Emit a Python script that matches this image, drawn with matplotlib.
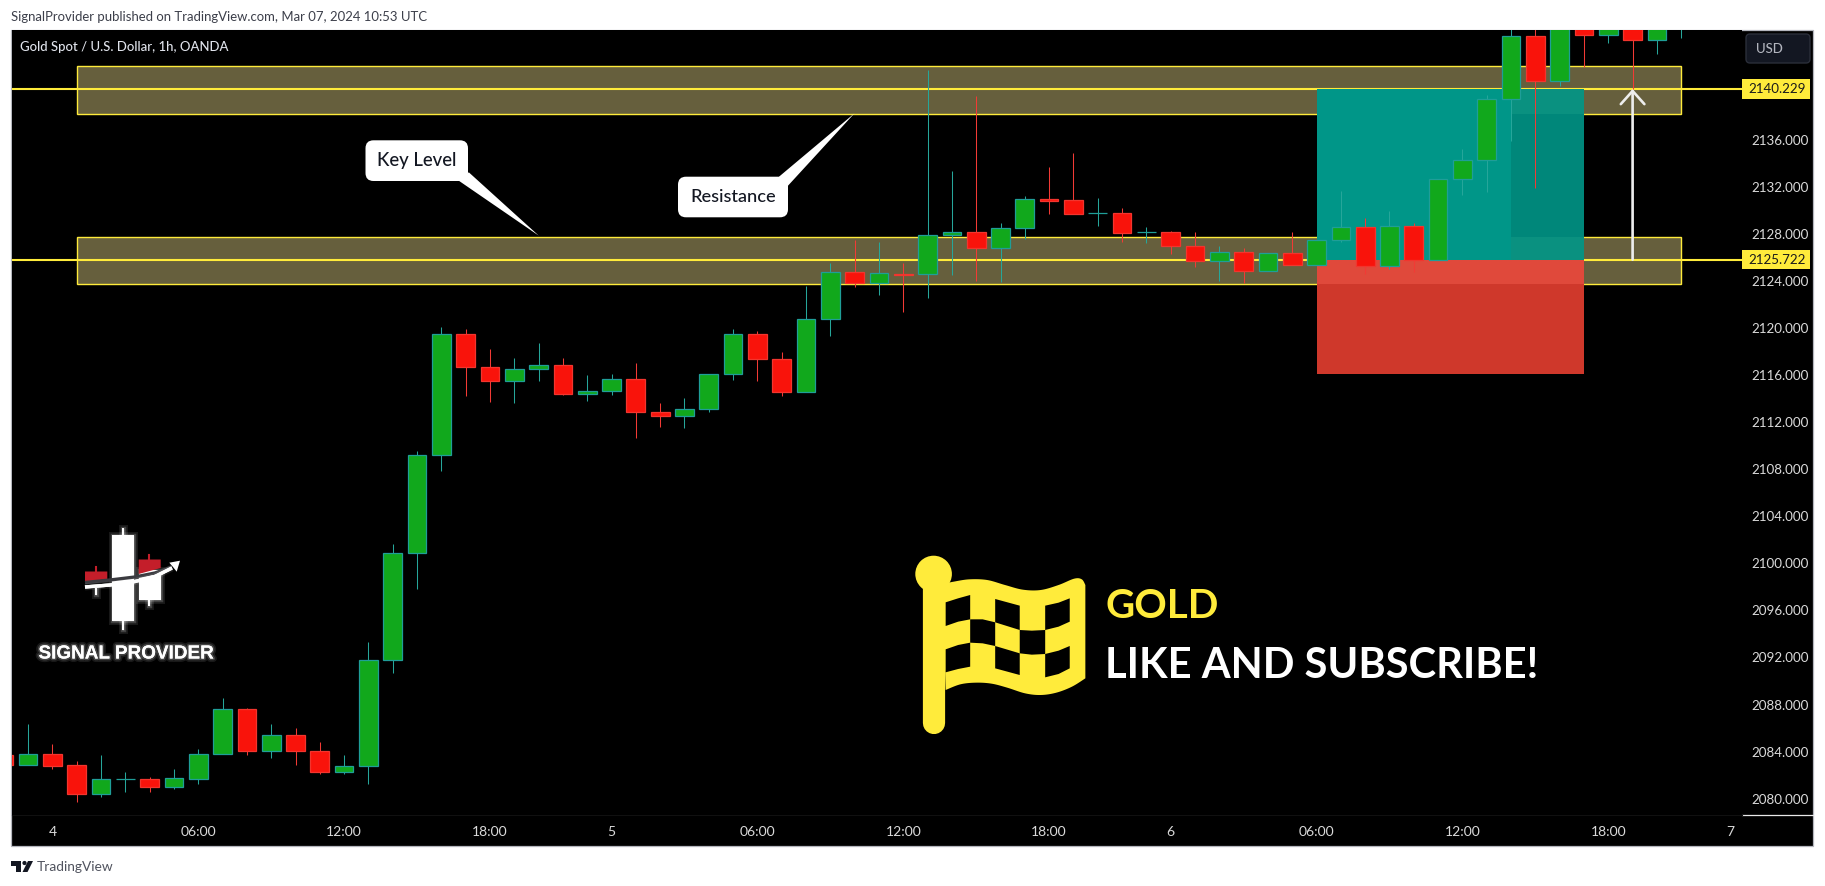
import numpy as np
import matplotlib
matplotlib.use("Agg")
import matplotlib.pyplot as plt
from matplotlib.patches import Rectangle, FancyBboxPatch, Polygon, Circle
from matplotlib.transforms import ScaledTranslation
import matplotlib.patheffects as pe

# ---------- data (prices are offsets from price_base) ----------
price_base = 2000
opens = [83.6,82.8,83.7,82.8,80.3,81.6,81.6,80.9,81.6,83.7,87.5,84.0,85.3,84.0,82.2,82.7,91.7,100.8,109.1,119.4,116.6,115.4,116.4,116.8,114.3,114.6,115.6,112.8,112.4,113.0,116.0,119.4,117.3,114.5,120.7,124.7,123.7,124.5,124.5,127.8,128.1,126.7,128.4,130.9,130.8,129.7,129.7,128.1,128.1,126.9,125.6,126.4,124.8,126.3,125.3,127.4,128.5,125.2,128.6,125.7,132.6,134.2,139.4,144.7,140.9,145.8,144.8,145.8,144.4,145.7]
highs = [83.8,86.3,84.6,83.1,83.6,82.2,81.8,82.4,84.1,88.5,87.6,86.3,85.9,84.7,83.6,93.2,101.6,109.5,120.0,119.8,118.1,117.4,118.6,117.4,115.9,116.0,116.9,113.5,114.0,116.0,119.8,119.7,117.9,123.5,125.4,127.4,127.2,125.4,141.8,133.3,139.6,128.8,131.1,133.6,134.8,131.0,130.1,128.5,128.2,128.1,126.9,126.7,126.3,128.1,127.4,131.6,129.3,129.9,128.8,132.6,135.1,139.7,145.8,146.1,146.9,146.7,146.7,146.7,146.4,146.9]
lows = [82.8,82.8,82.4,79.6,80.1,80.5,80.5,80.7,81.2,83.7,83.6,83.4,82.8,82.0,82.0,81.2,90.6,97.7,107.8,114.1,113.6,113.5,115.4,114.2,113.7,114.2,110.6,111.5,111.4,112.8,115.5,115.4,114.1,114.5,119.2,123.4,122.7,121.3,122.5,124.4,123.9,123.8,127.5,129.6,129.6,128.6,127.2,127.1,126.2,125.1,123.9,123.7,124.8,125.3,125.3,127.2,124.5,124.9,124.7,125.7,131.2,131.5,135.8,131.8,140.5,142.1,144.1,140.2,143.2,144.6]
closes = [82.8,83.7,82.7,80.3,81.6,81.6,80.9,81.7,83.7,87.5,84.0,85.3,84.0,82.2,82.7,91.7,100.8,109.1,119.4,116.6,115.4,116.4,116.8,114.3,114.6,115.6,112.8,112.4,113.0,116.0,119.4,117.3,114.5,120.7,124.7,123.7,124.6,124.4,127.8,128.1,126.7,128.4,130.9,130.7,129.6,129.7,128.0,128.1,126.9,125.6,126.4,124.8,126.3,125.3,127.4,128.5,125.2,128.6,125.7,132.6,134.2,139.4,144.7,140.9,146.1,144.8,145.8,144.4,145.5,146.1]
first_bar = -2

time_ticks = [0, 6, 12, 18, 23, 29, 35, 41, 46, 52, 58, 64, 69]
time_labels = ["4", "06:00", "12:00", "18:00", "5", "06:00", "12:00", "18:00", "6", "06:00", "12:00", "18:00", "7"]
price_ticks = [2080, 2084, 2088, 2092, 2096, 2100, 2104, 2108, 2112, 2116, 2120, 2124, 2128, 2132, 2136]

line_upper = 2140.229
line_lower = 2125.722
zone_upper = (2138.08, 2142.16)
zone_lower = (2123.63, 2127.63)
zone_bars = (1, 67)
position_bars = (52, 63)
position_overlap_bar = 60
stop_price = 2116.03
arrow_bar = 65

# ---------- colours ----------
UP_FACE, UP_EDGE, UP_WICK = "#11A81C", "#1F9E98", "#26A69A"
DOWN_FACE, DOWN_EDGE, DOWN_WICK = "#F9130B", "#F2352E", "#F23A35"
YELLOW = "#FFEB3B"
ZONE = "#665F3D"
TICK = "#DADADA"
FONT = "Lato"

W, H = 1825, 886
fig = plt.figure(figsize=(W / 100, H / 100), dpi=100, facecolor="white")


def px_axes(z):
    a = fig.add_axes([0, 0, 1, 1], zorder=z)
    a.set_xlim(0, W)
    a.set_ylim(H, 0)
    a.axis("off")
    a.patch.set_alpha(0)
    return a


bg = px_axes(0)
bg.add_patch(Rectangle((11.5, 30), 1813.5 - 11.5, 846 - 30, fc="black", ec="#B4B6BD", lw=0.9))
bg.plot([1742, 1813], [815, 815], color="#E8E8E8", lw=0.9)

# ---------- price pane ----------
L, R, T, B = 11.5, 1742.0, 30.0, 815.0
ax = fig.add_axes([L / W, 1 - B / H, (R - L) / W, (B - T) / H], zorder=1, facecolor="black")
ax.set_xlim(-1.682, 69.5)
ax.set_ylim(2078.53, 2145.24)
for s in ax.spines.values():
    s.set_visible(False)
ax.spines["bottom"].set_visible(True)
ax.spines["bottom"].set_color("#101010")
ax.spines["bottom"].set_linewidth(0.8)

ax.yaxis.tick_right()
ax.set_yticks(price_ticks)
ax.set_yticklabels([f"{p:.3f}" for p in price_ticks], fontsize=9.6, color=TICK, family=FONT)
ax.tick_params(axis="y", length=0, pad=6.5)
ax.set_xticks(time_ticks)
ax.set_xticklabels(time_labels, fontsize=10, color=TICK, family=FONT)
ax.tick_params(axis="x", length=0, pad=7.7)
down1 = ScaledTranslation(0, -1 / 100, fig.dpi_scale_trans)
for lab in ax.get_yticklabels():
    lab.set_transform(lab.get_transform() + down1)

# zones
for lo, hi in (zone_upper, zone_lower):
    ax.add_patch(Rectangle((zone_bars[0], lo), zone_bars[1] - zone_bars[0], hi - lo, fc=ZONE, ec=YELLOW, lw=1.0, zorder=1))
# horizontal levels
for lvl in (line_upper, line_lower):
    ax.axhline(lvl, color=YELLOW, lw=1.5, zorder=2)

# long position box
x0, x1 = position_bars
xo = position_overlap_bar
ax.add_patch(Rectangle((x0, line_lower), x1 - x0, line_upper - line_lower, fc="#009688", ec="none", zorder=3))
ax.add_patch(Rectangle((x0, stop_price), x1 - x0, line_lower - stop_price, fc="#CF382B", ec="none", zorder=3))
ax.add_patch(Rectangle((x0, zone_lower[0]), x1 - x0, line_lower - zone_lower[0], fc="#E0493B", ec="none", zorder=3))
ax.add_patch(Rectangle((xo, zone_lower[1]), x1 - xo, zone_upper[0] - zone_lower[1], fc="#00877A", ec="none", zorder=3))
ax.add_patch(Rectangle((xo, line_lower), x1 - xo, zone_lower[1] - line_lower, fc="#0A9180", ec="none", zorder=3))
ax.add_patch(Rectangle((xo, zone_upper[0]), x1 - xo, line_upper - zone_upper[0], fc="#0A9180", ec="none", zorder=3))

# candles
o = price_base + np.array(opens)
h = price_base + np.array(highs)
l = price_base + np.array(lows)
c = price_base + np.array(closes)
xs = first_bar + np.arange(len(o))
up = c >= o
ax.vlines(xs[up], l[up], h[up], color=UP_WICK, lw=0.75, zorder=5)
ax.vlines(xs[~up], l[~up], h[~up], color=DOWN_WICK, lw=0.75, zorder=5)
ax.bar(xs[up], (c - o)[up], bottom=o[up], width=0.77, color=UP_FACE, edgecolor=UP_EDGE, lw=0.9, zorder=6)
ax.bar(xs[~up], (c - o)[~up], bottom=o[~up], width=0.77, color=DOWN_FACE, edgecolor=DOWN_EDGE, lw=0.9, zorder=6)

# arrow
ax.annotate("", xy=(arrow_bar, line_upper), xytext=(arrow_bar, line_lower),
            arrowprops=dict(arrowstyle="->,head_length=0.95,head_width=0.85", color="#EDEDED", lw=1.9,
                            shrinkA=0, shrinkB=0, mutation_scale=10), zorder=4)

# price tags
tr = ax.get_yaxis_transform()
for lvl in (line_upper, line_lower):
    ax.add_patch(Rectangle((1.0, lvl - 0.82), 68 / (R - L), 1.64, transform=tr, fc=YELLOW, ec="none", clip_on=False, zorder=8))
    ax.text(1 + 35.5 / (R - L), lvl - 0.04, f"{lvl:.3f}", transform=tr, ha="center", va="center", fontsize=9.6,
            color="#1A1A1A", family=FONT, clip_on=False, zorder=9)

# ---------- overlay ----------
top = px_axes(2)


def fit(t, width):
    r = fig.canvas.get_renderer()
    e = t.get_window_extent(r).width
    t.set_fontsize(t.get_fontsize() * width / e)
    return t


# titles
fit(bg.text(11, 16.5, "SignalProvider published on TradingView.com, Mar 07, 2024 10:53 UTC", fontsize=9.5,
            color="#3C3F4A", family=FONT, va="center"), 417)
fit(top.text(20, 46.5, "Gold Spot / U.S. Dollar, 1h, OANDA", fontsize=9.5, color="#E0E3EB", family=FONT, va="center", weight="medium"), 208)
fit(bg.text(37, 867, "TradingView", fontsize=11, color="#50535E", family=FONT, va="center"), 77)

# TV logo
for poly in ([(11.5, 861), (21.5, 861), (21.5, 872), (16.5, 872), (16.5, 865.5), (11.5, 865.5)],
             [(28, 861), (33, 861), (27.5, 872), (22.5, 872)]):
    bg.add_patch(Polygon(poly, fc="#131722", ec="none"))
bg.add_patch(Circle((24.5, 863), 2.1, fc="#131722", ec="none"))

# USD button
top.add_patch(FancyBboxPatch((1749, 37), 58, 23, boxstyle="round,pad=3,rounding_size=4", fc="#131722", ec="#2A2E39", lw=1))
top.text(1769, 48.5, "USD", ha="center", va="center", fontsize=9.5, color="#B2B5BE", family=FONT, weight="medium")


# callouts
def callout(box, tail, label, cx, cy, width):
    x0, y0, x1, y1 = box
    r = 8
    top.add_patch(Polygon(tail, fc="white", ec="none", zorder=3))
    top.add_patch(FancyBboxPatch((x0 + r, y0 + r), x1 - x0 - 2 * r, y1 - y0 - 2 * r,
                                 boxstyle=f"round,pad={r},rounding_size={r}", fc="white", ec="none", zorder=3))
    fit(top.text(cx, cy, label, ha="center", va="center", color="#131722", family=FONT, fontsize=11, weight="medium", zorder=4), width)


callout((365.5, 140.3, 468, 181), [(468.8, 172.3), (459.2, 181), (538.8, 235.7)], "Key Level", 417, 160, 80)
callout((678, 176.7, 788, 217.3), [(779, 176.7), (788, 185.7), (854.5, 113.3)], "Resistance", 732.8, 196.5, 86)


# flag
def fz(p):
    return [(880 + x / 2.24, 540 + y / 3) for x, y in p]


def smooth(pts, n=12):
    p = np.array(pts, float)
    p = np.vstack([p[0], p, p[-1]])
    out = []
    for i in range(1, len(p) - 2):
        for t in np.linspace(0, 1, n, endpoint=False):
            a, b, c_, d = p[i - 1], p[i], p[i + 1], p[i + 2]
            out.append(0.5 * (2 * b + (c_ - a) * t + (2 * a - 5 * b + 4 * c_ - d) * t ** 2 + (3 * b - a - 3 * c_ + d) * t ** 3))
    out.append(p[-1])
    return [tuple(q) for q in out]


FLAG = "#FFEB3B"
top.plot([933.6, 933.6], [580, 723], color=FLAG, lw=16, solid_capstyle="round")
top.add_patch(Circle((933.6, 574), 18.3, fc=FLAG, ec="none"))
cloth_top = [(140, 132), (165, 125), (200, 118), (240, 120), (280, 135), (320, 149), (360, 150), (400, 135), (435, 116), (452, 118), (460, 135)]
cloth_bot = [(460, 415), (430, 440), (395, 458), (360, 465), (325, 460), (285, 443), (250, 431), (215, 428), (180, 433), (147, 450)]
top.add_patch(Polygon(fz(smooth(cloth_top) + smooth(cloth_bot)), fc=FLAG, ec="none"))
squares = [
    [(147, 187), (175, 175), (202, 165), (202, 238), (175, 245), (147, 258)],
    [(258, 177), (313, 197), (313, 270), (258, 247)],
    [(370, 197), (400, 188), (425, 175), (425, 245), (400, 260), (370, 270)],
    [(202, 238), (230, 238), (258, 247), (258, 318), (230, 310), (202, 308)],
    [(313, 270), (340, 272), (370, 270), (370, 342), (340, 344), (313, 340)],
    [(147, 328), (175, 315), (202, 308), (202, 380), (175, 387), (147, 397)],
    [(258, 318), (313, 340), (313, 405), (258, 385)],
    [(370, 342), (400, 332), (425, 318), (425, 385), (400, 402), (370, 412)],
]
for s in squares:
    top.add_patch(Polygon(fz(s), fc="black", ec="none"))

fit(top.text(1105.5, 606.5, "GOLD", color=FLAG, family=FONT, weight="bold", fontsize=30, va="center"), 113)
fit(top.text(1105.5, 666, "LIKE AND SUBSCRIBE!", color="white", family=FONT, weight="bold", fontsize=30, va="center"), 433)

# logo
glow = [pe.withStroke(linewidth=5, foreground="white", alpha=0.10), pe.withStroke(linewidth=2.5, foreground="white", alpha=0.18)]
WHITE_PARTS = [
    Rectangle((112, 535), 22, 85.7), Rectangle((122, 528.3), 2, 7), Rectangle((122, 620), 2, 10),
    Rectangle((138.7, 570), 22, 30), Rectangle((148.3, 600), 2, 5.5), Rectangle((95.3, 588), 2, 7),
]
for pt in WHITE_PARTS:
    pt.set(fc="white", ec="none", path_effects=glow)
    top.add_patch(pt)
for poly in ([(85, 571.5), (107.3, 571.5), (107.3, 579), (85, 582)], [(138.7, 559.5), (160.7, 559.5), (160.7, 568), (138.7, 574)]):
    top.add_patch(Polygon(poly, fc="#C41E2A", ec="none"))
top.plot([96.3, 96.3], [566.5, 571.5], color="#C41E2A", lw=1.5)
top.plot([149.3, 149.3], [555, 560], color="#C41E2A", lw=1.5)
sw_x = [85, 110, 135, 155, 172]
top.plot(sw_x, [582.5, 580, 577, 573, 567], color="#3A3A3F", lw=2.4, solid_capstyle="butt", zorder=4)
top.plot(sw_x, [587, 585, 581.5, 576.5, 568], color="white", lw=2.4, solid_capstyle="butt", zorder=5, path_effects=glow)
top.add_patch(Polygon([(180, 560.7), (169.3, 562.7), (173, 567), (176.7, 571.7)], fc="white", ec="none", zorder=5))
fit(top.text(38.5, 654, "SIGNAL PROVIDER", color="white", family="Liberation Sans", weight="bold", fontsize=12, va="center", path_effects=glow), 175)

fig.savefig("out.png", dpi=100, facecolor="white")
